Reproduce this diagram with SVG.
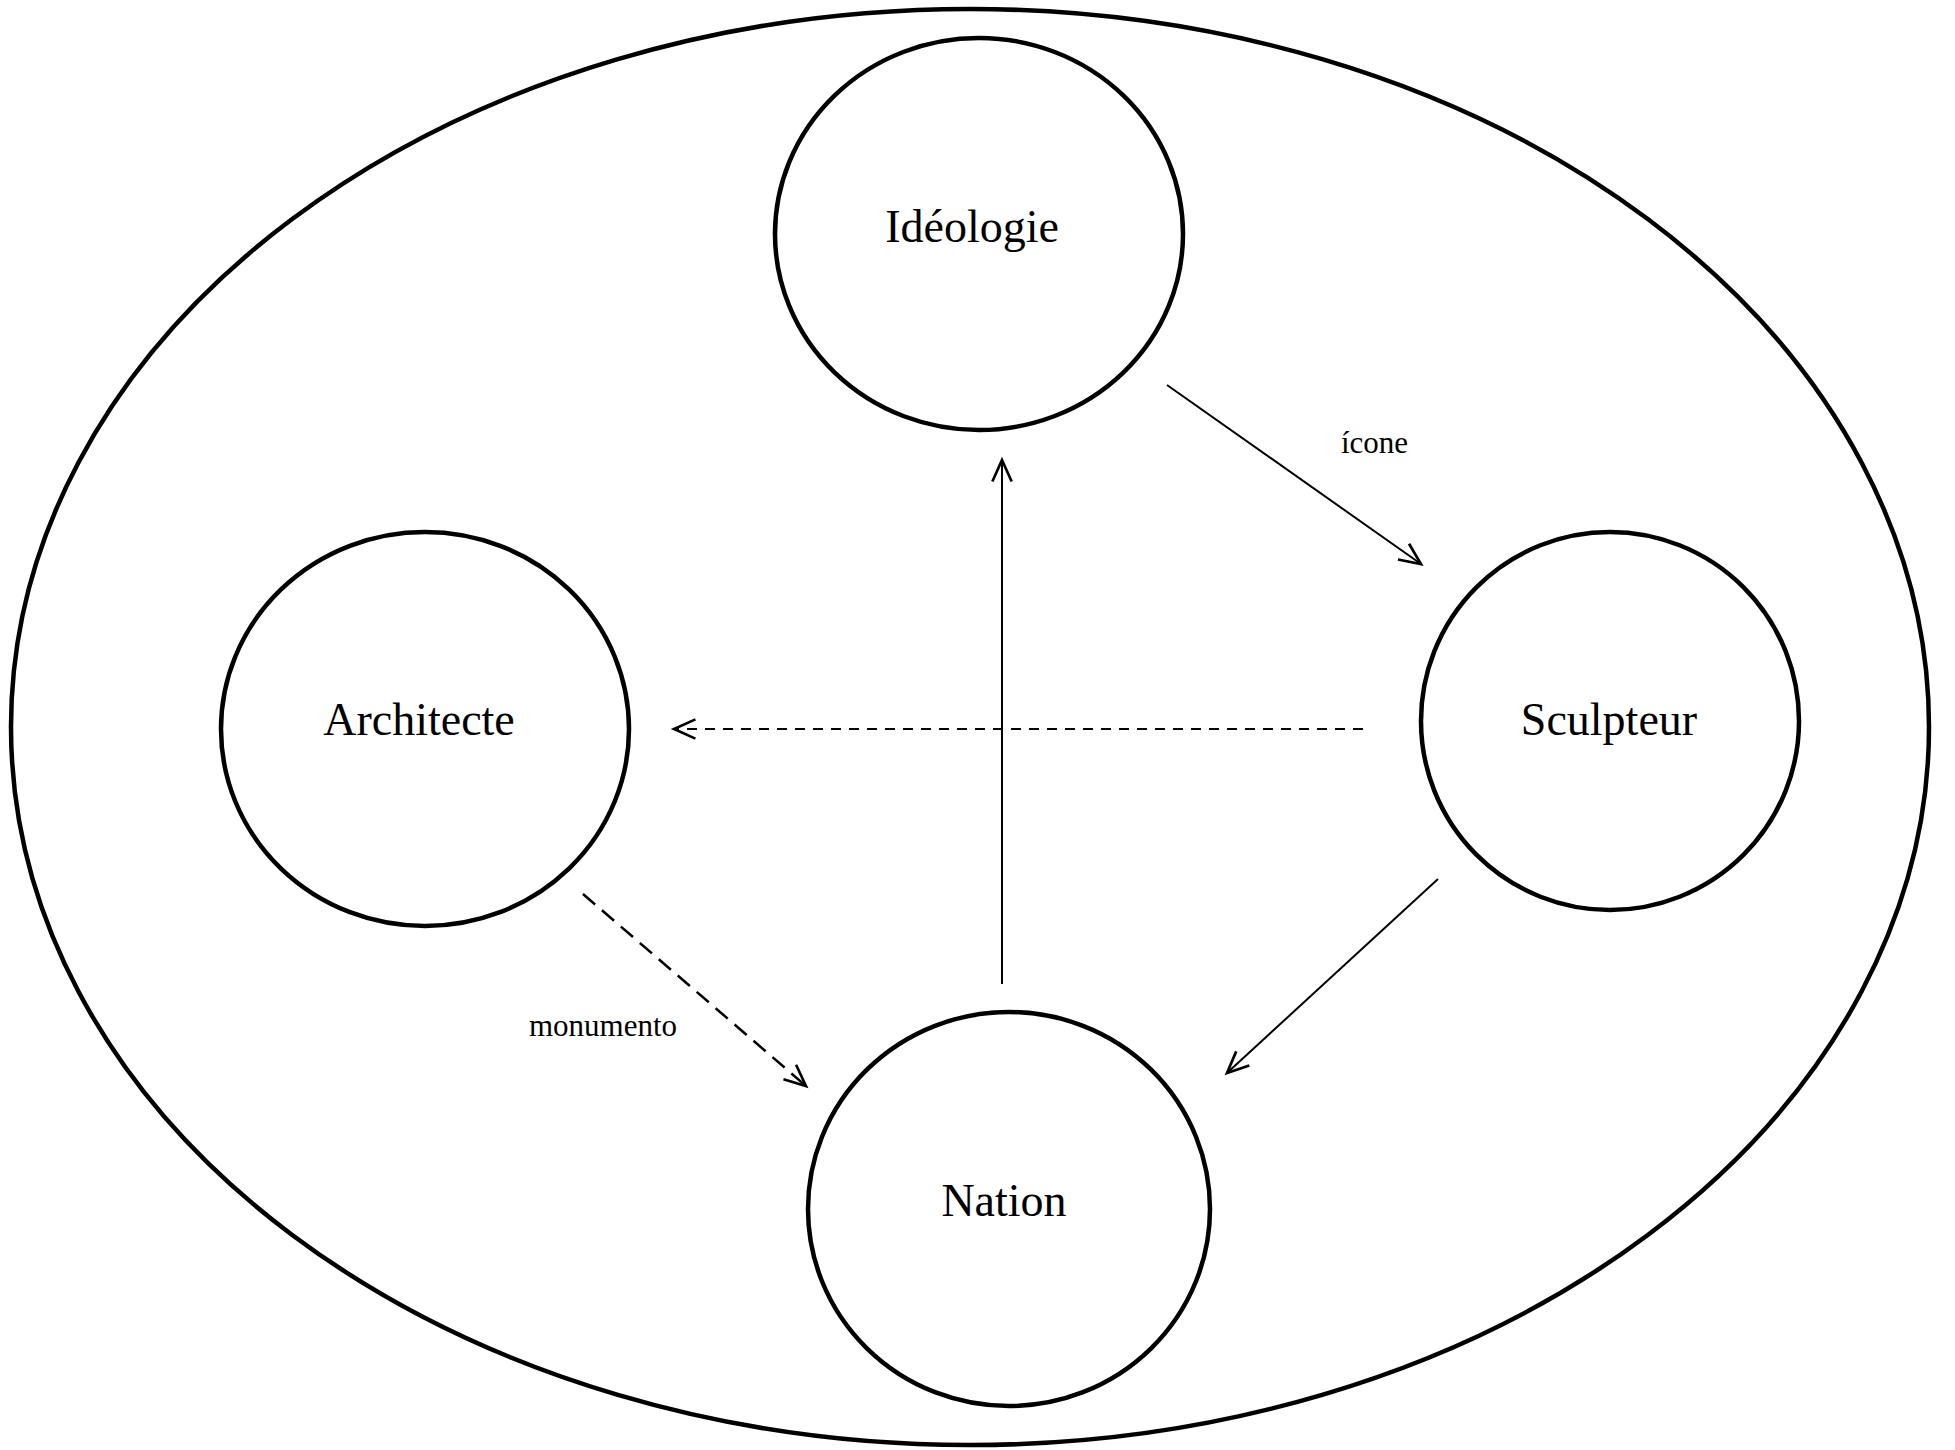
<svg xmlns="http://www.w3.org/2000/svg" width="1955" height="1450" viewBox="0 0 1955 1450">
<style>
.node{fill:none;stroke:#000;stroke-width:4.5}
.lbl{font-family:"Liberation Serif","Times New Roman",serif;font-size:46px;fill:#000;text-anchor:middle}
.edge{font-family:"Liberation Serif","Times New Roman",serif;font-size:31px;fill:#000}
.c{fill:none;stroke:#000;stroke-width:2}
.d1{stroke-dasharray:10 8}
.d2{stroke-dasharray:16 9;stroke-width:2.5}
</style>
<defs>
<marker id="ah" markerUnits="userSpaceOnUse" markerWidth="30" markerHeight="30" viewBox="-24 -12 28 24" refX="0" refY="0" orient="auto">
<path d="M-20,-9 L0,0 L-20,9" fill="none" stroke="#000" stroke-width="2.5"/>
</marker>
</defs>
<rect width="1955" height="1450" fill="#fff"/>
<g id="outer"><ellipse class="node" cx="970" cy="727" rx="959" ry="718"/></g>
<g id="ideologie"><ellipse class="node" cx="979" cy="234" rx="204" ry="196"/><text class="lbl" x="972" y="242">Idéologie</text></g>
<g id="architecte"><ellipse class="node" cx="425" cy="729" rx="204" ry="197"/><text class="lbl" x="419" y="735">Architecte</text></g>
<g id="sculpteur"><ellipse class="node" cx="1610" cy="721" rx="189" ry="189"/><text class="lbl" x="1609" y="735">Sculpteur</text></g>
<g id="nation"><ellipse class="node" cx="1009" cy="1209" rx="201" ry="197"/><text class="lbl" x="1004" y="1216">Nation</text></g>
<g id="connectors">
<line class="c" x1="1167" y1="385" x2="1421" y2="564" marker-end="url(#ah)"/>
<line class="c" x1="1002" y1="984" x2="1002" y2="460" marker-end="url(#ah)"/>
<line class="c" x1="1438" y1="879" x2="1227" y2="1073" marker-end="url(#ah)"/>
<line class="c d1" x1="1363" y1="729" x2="674" y2="729" marker-end="url(#ah)"/>
<line class="c d2" x1="583" y1="894" x2="806" y2="1086" marker-end="url(#ah)"/>
<text class="edge" x="1341" y="453">ícone</text>
<text class="edge" x="529" y="1036">monumento</text>
</g>
</svg>
